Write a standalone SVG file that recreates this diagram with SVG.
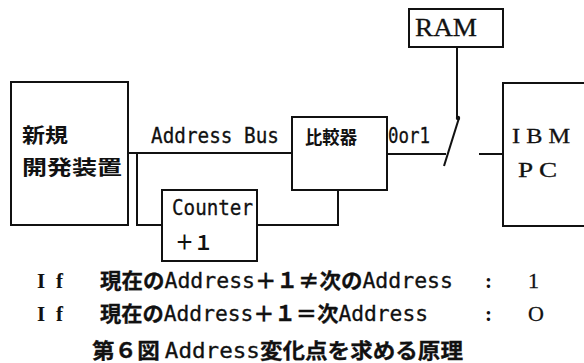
<svg xmlns="http://www.w3.org/2000/svg" width="584" height="363" viewBox="0 0 584 363">
<style>
.ln{fill:none;stroke:#111;stroke-width:2}
.cj{font-family:"Noto Sans CJK JP",sans-serif;font-weight:bold;fill:#111}
.mo{font-family:"DejaVu Sans Mono","Noto Sans CJK JP",monospace;fill:#111;stroke:#111;stroke-width:0.3}
.b{font-family:"Noto Sans CJK JP",sans-serif;font-weight:bold}
.sf{font-family:"Liberation Serif",serif;fill:#111;stroke:#111;stroke-width:0.3}
.sb{font-family:"Liberation Serif",serif;font-weight:bold;fill:#111}
</style>
<rect width="584" height="363" fill="#fff"/>
<g id="connectors">
<line class="ln" x1="128" y1="153" x2="292" y2="153"/>
<polyline class="ln" points="137,153 137,225 162,225"/>
<polyline class="ln" points="257,225 338,225 338,190"/>
<line class="ln" x1="387" y1="154" x2="446" y2="154"/>
<line class="ln" x1="444" y1="166" x2="459" y2="118"/>
<circle cx="458" cy="118" r="2.2" fill="#111"/>
<line class="ln" x1="457" y1="47" x2="457" y2="118"/>
<line class="ln" x1="479" y1="154" x2="503" y2="154"/>
<text class="mo" x="151" y="143" font-size="22" textLength="128" lengthAdjust="spacingAndGlyphs">Address Bus</text>
<text class="mo" x="388" y="143" font-size="21" textLength="42" lengthAdjust="spacingAndGlyphs">0or1</text>
</g>
<g id="shinki">
<rect class="ln" x="11" y="82" width="117" height="143"/>
<text class="cj" x="22" y="143" font-size="20" textLength="46" lengthAdjust="spacingAndGlyphs">新規</text>
<text class="cj" x="22" y="175" font-size="20" textLength="100" lengthAdjust="spacingAndGlyphs">開発装置</text>
</g>
<g id="counter">
<rect class="ln" x="162" y="190" width="95" height="71"/>
<text class="mo" x="172" y="215" font-size="22" textLength="81" lengthAdjust="spacingAndGlyphs">Counter</text>
<text class="cj" x="175" y="250" font-size="20" textLength="38" lengthAdjust="spacingAndGlyphs">＋１</text>
</g>
<g id="hikakuki">
<rect class="ln" x="292" y="117" width="95" height="73"/>
<text class="cj" x="305" y="144" font-size="18" textLength="52" lengthAdjust="spacingAndGlyphs">比較器</text>
</g>
<g id="ram">
<rect class="ln" x="409" y="9" width="94" height="38"/>
<text class="sf" x="415" y="36" font-size="26" textLength="62" lengthAdjust="spacingAndGlyphs">RAM</text>
</g>
<g id="ibmpc">
<polyline class="ln" points="584,83 503,83 503,226 584,226"/>
<text class="sf" x="512" y="143" font-size="22" textLength="58" lengthAdjust="spacingAndGlyphs">I B M</text>
<text class="sf" x="518" y="177" font-size="22" textLength="39" lengthAdjust="spacingAndGlyphs">P C</text>
</g>
<g id="caption">
<text class="sb" x="37" y="288" font-size="21">I</text>
<text class="sb" x="56" y="288" font-size="21">f</text>
<text class="mo" x="100" y="288" font-size="21" textLength="353" lengthAdjust="spacingAndGlyphs"><tspan class="b">現在の</tspan>Address<tspan class="b">＋１≠次の</tspan>Address</text>
<text class="sb" x="485" y="288" font-size="21">:</text>
<text class="sf" x="528" y="288" font-size="22">1</text>
<text class="sb" x="37" y="321" font-size="21">I</text>
<text class="sb" x="56" y="321" font-size="21">f</text>
<text class="mo" x="100" y="321" font-size="21" textLength="328" lengthAdjust="spacingAndGlyphs"><tspan class="b">現在の</tspan>Address<tspan class="b">＋１＝次</tspan>Address</text>
<text class="sb" x="485" y="321" font-size="21">:</text>
<text class="sf" x="528" y="321" font-size="22">O</text>
<text class="mo" x="92" y="358" font-size="21" textLength="371" lengthAdjust="spacingAndGlyphs"><tspan class="b">第６図 </tspan>Address<tspan class="b">変化点を求める原理</tspan></text>
</g>
</svg>
